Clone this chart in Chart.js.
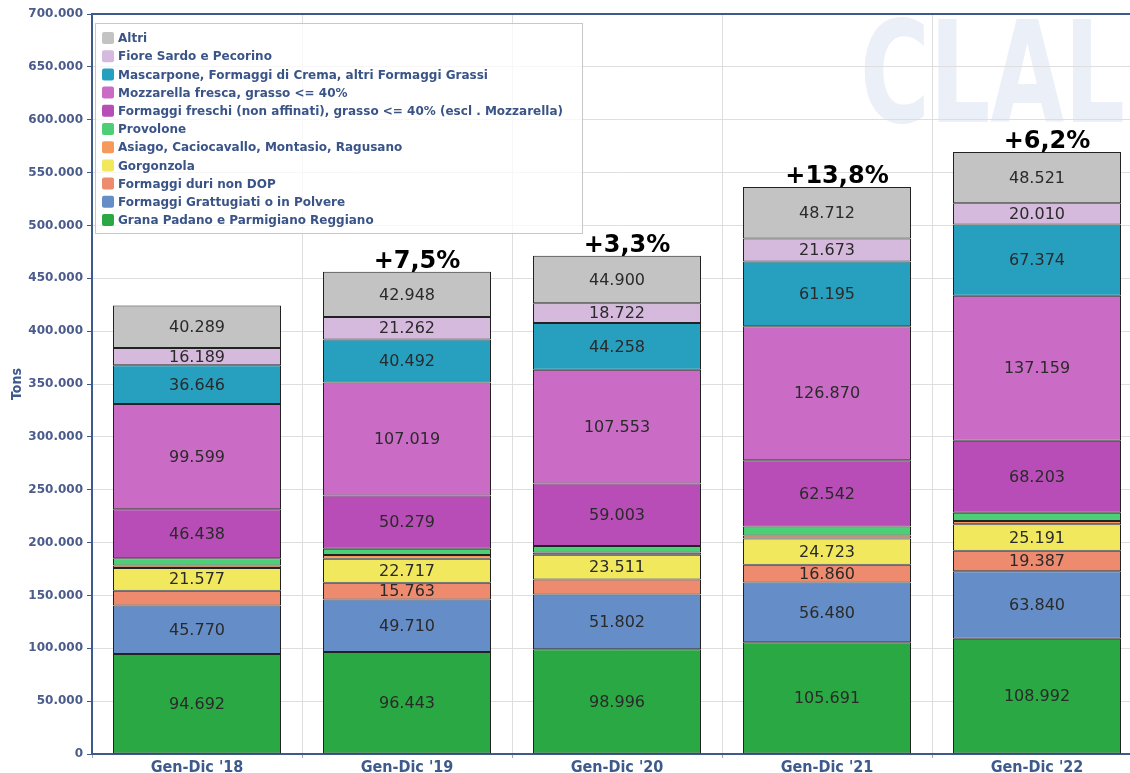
<!DOCTYPE html>
<html><head><meta charset="utf-8">
<script src="https://cdn.jsdelivr.net/npm/chart.js@4"></script>
<style>
html,body{margin:0;padding:0;overflow:hidden;background:#fff;width:1130px;height:773px}
#wrap{position:absolute;left:0;top:0;width:1145px;height:773px}
</style>
</head><body><div id="wrap"><canvas id="c"></canvas></div>
<script>
const categories = ["Gen-Dic '18", "Gen-Dic '19", "Gen-Dic '20", "Gen-Dic '21", "Gen-Dic '22"];
const grana       = [94692, 96443, 98996, 105691, 108992];
const grattugiati = [45770, 49710, 51802, 56480, 63840];
const duri        = [14000, 15763, 14200, 16860, 19387];
const gorgonzola  = [21577, 22717, 23511, 24723, 25191];
const asiago      = [2300, 3600, 2200, 3000, 3000];
const provolone   = [6800, 6000, 6100, 8500, 7800];
const freschi     = [46438, 50279, 59003, 62542, 68203];
const mozzarella  = [99599, 107019, 107553, 126870, 137159];
const mascarpone  = [36646, 40492, 44258, 61195, 67374];
const fiore       = [16189, 21262, 18722, 21673, 20010];
const altri       = [40289, 42948, 44900, 48712, 48521];
const growthLabels = ["", "+7,5%", "+3,3%", "+13,8%", "+6,2%"];
const seriesNames = [
  "Grana Padano e Parmigiano Reggiano",
  "Formaggi Grattugiati o in Polvere",
  "Formaggi duri non DOP",
  "Gorgonzola",
  "Asiago, Caciocavallo, Montasio, Ragusano",
  "Provolone",
  "Formaggi freschi (non affinati), grasso <= 40% (escl . Mozzarella)",
  "Mozzarella fresca, grasso <= 40%",
  "Mascarpone, Formaggi di Crema, altri Formaggi Grassi",
  "Fiore Sardo e Pecorino",
  "Altri"
];
const seriesValues = [grana, grattugiati, duri, gorgonzola, asiago, provolone, freschi, mozzarella, mascarpone, fiore, altri];
const seriesColors = ["#2aa843", "#658ec8", "#ee8a6e", "#f1e85e", "#f59a5a", "#4ccf77", "#b84db8", "#ca6cc6", "#27a0c0", "#d6bade", "#c3c3c3"];

const AXIS = "#3e5a8c";
const NARROW = "'Liberation Sans Narrow', 'DejaVu Sans Condensed', 'DejaVu Sans', sans-serif";
const fmt = v => String(Math.round(v)).replace(/\B(?=(\d{3})+(?!\d))/g, ".");

const overlay = {
  id: 'overlay',
  beforeDraw(chart) {
    const ctx = chart.ctx;
    ctx.save();
    ctx.fillStyle = "#eaeff8";
    ctx.font = "bold 140px 'DejaVu Sans'";
    ctx.textBaseline = "alphabetic";
    ctx.textAlign = "left";
    ctx.translate(860, 122);
    ctx.scale(0.68, 1);
    ctx.fillText("CLAL", 0, 0);
    ctx.restore();
  },
  afterDatasetsDraw(chart) {
    const ctx = chart.ctx;
    ctx.save();
    ctx.textAlign = "center";
    ctx.textBaseline = "middle";
    ctx.font = "16px 'DejaVu Sans'";
    ctx.fillStyle = "#2a2a2a";
    chart.data.datasets.forEach((ds, di) => {
      const meta = chart.getDatasetMeta(di);
      meta.data.forEach((el, i) => {
        const v = ds.data[i];
        if (v >= 15000) {
          ctx.fillText(fmt(v), el.x, (el.y + el.base) / 2 + 1);
        }
      });
    });
    const topMeta = chart.getDatasetMeta(chart.data.datasets.length - 1);
    ctx.font = "bold 24px 'DejaVu Sans'";
    ctx.fillStyle = "#000";
    ctx.textBaseline = "alphabetic";
    topMeta.data.forEach((el, i) => {
      if (growthLabels[i]) ctx.fillText(growthLabels[i], el.x + 10, el.y - 4);
    });
    ctx.restore();
  },
  afterDraw(chart) {
    const ctx = chart.ctx;
    const a = chart.chartArea;
    ctx.save();
    ctx.strokeStyle = AXIS;
    ctx.lineWidth = 2;
    ctx.beginPath();
    ctx.moveTo(a.left - 1, a.top);
    ctx.lineTo(a.right, a.top);
    ctx.stroke();
    // legend
    const lx = 95, ly = 23, lw = 487, lh = 210;
    ctx.fillStyle = "rgba(255,255,255,0.75)";
    ctx.fillRect(lx, ly, lw, lh);
    ctx.strokeStyle = "#c8c8c8";
    ctx.lineWidth = 1;
    ctx.strokeRect(lx + 0.5, ly + 0.5, lw, lh);
    ctx.font = "bold 12px 'DejaVu Sans'";
    ctx.textBaseline = "middle";
    ctx.textAlign = "left";
    const n = chart.data.datasets.length;
    for (let k = 0; k < n; k++) {
      const ds = chart.data.datasets[n - 1 - k];
      const cy = 38 + k * 18.2;
      ctx.fillStyle = ds.backgroundColor;
      ctx.beginPath();
      if (ctx.roundRect) ctx.roundRect(102, cy - 6, 12, 12, 2); else ctx.rect(102, cy - 6, 12, 12);
      ctx.fill();
      ctx.fillStyle = "#3a5488";
      ctx.fillText(ds.label, 118, cy + 1);
    }
    ctx.restore();
  }
};

const datasets = seriesNames.map((name, i) => ({
  label: name,
  data: seriesValues[i],
  backgroundColor: seriesColors[i],
  borderColor: "#222",
  borderWidth: 1,
  borderSkipped: false,
  categoryPercentage: 1.0,
  barPercentage: 0.8
}));

new Chart(document.getElementById('c'), {
  type: 'bar',
  data: { labels: categories, datasets },
  options: {
    responsive: true,
    maintainAspectRatio: false,
    animation: false,
    layout: { padding: { top: 14, right: 3, left: 0, bottom: 0 } },
    plugins: { legend: { display: false }, tooltip: { enabled: false } },
    scales: {
      x: {
        stacked: true,
        grid: { color: "#dedede", offset: true, tickLength: 4, tickColor: "#9aa6c0" },
        border: { color: AXIS, width: 2 },
        ticks: {
          color: AXIS, padding: 0, maxRotation: 0,
          font: { family: NARROW, size: 16, weight: 'bold' }
        },
        afterFit(s) { s.height = 19; }
      },
      y: {
        stacked: true,
        min: 0, max: 700000,
        grid: { color: "#dedede", tickLength: 5, tickColor: AXIS },
        border: { color: AXIS, width: 2 },
        ticks: {
          stepSize: 50000, color: "#4a5b8c", padding: 4,
          font: { family: "'DejaVu Sans'", size: 12, weight: 'bold' },
          callback: v => fmt(v)
        },
        title: {
          display: true, text: "Tons", color: AXIS, padding: { top: 9, bottom: 0 },
          font: { family: NARROW, size: 14, weight: 'bold' }
        },
        afterFit(s) { s.width = 92; }
      }
    }
  },
  plugins: [overlay]
});
</script>
</body></html>
